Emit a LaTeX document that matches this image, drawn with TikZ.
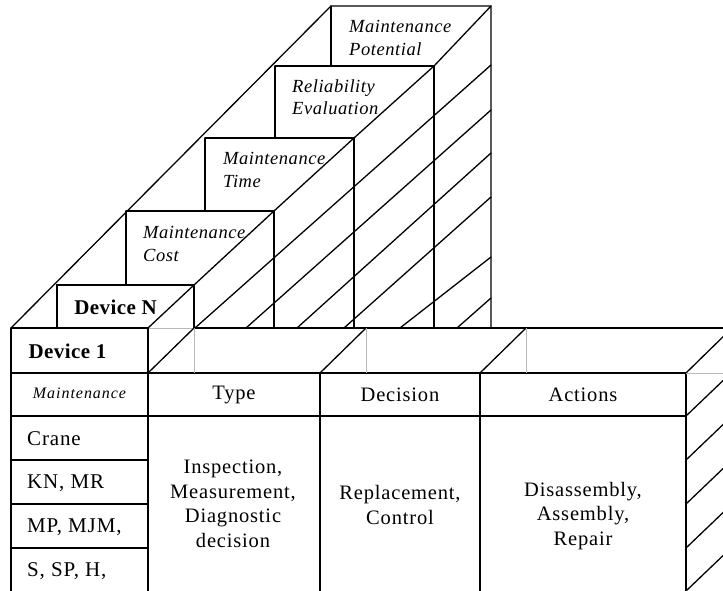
\documentclass[tikz,border=0pt]{standalone}
\usepackage{fontspec}
\setmainfont{Liberation Serif}
\newfontfamily\widefont[LetterSpace=4]{Liberation Serif}
\newfontfamily\wideital[LetterSpace=3,UprightFont=*-Italic]{Liberation Serif}
\newfontfamily\smallital[LetterSpace=6,UprightFont=*-Italic]{Liberation Serif}
\newfontfamily\widebold[LetterSpace=2,UprightFont=*-Bold]{Liberation Serif}
\begin{document}
\begin{tikzpicture}[x=1pt,y=-1pt,
  ln/.style={line width=1.3pt, line cap=round, line join=miter},
  gl/.style={line width=1pt, draw=black!28},
  txt/.style={inner sep=0pt, font=\fontsize{20.5}{24.5}\widefont, align=center},
  bld/.style={inner sep=0pt, font=\fontsize{21}{25}\widebold},
  itl/.style={inner sep=0pt, font=\fontsize{18.5}{22.5}\wideital, align=left, anchor=west},
  lft/.style={inner sep=0pt, font=\fontsize{21}{25}\widefont, anchor=west},
]
\clip (0,0) rectangle (723,591);
\fill[white] (0,0) rectangle (723,591);

% ---------- upper staircase ----------
\draw[ln] (11,328) -- (331,6) -- (491,6) -- (491,328);
\draw[ln] (331,6) -- (331,66);
\draw[ln] (275,66) -- (434,66) -- (434,328);
\draw[ln] (275,66) -- (275,138);
\draw[ln] (205,138) -- (354,138) -- (354,328);
\draw[ln] (205,138) -- (205,211);
\draw[ln] (126,211) -- (274,211) -- (274,328);
\draw[ln] (126,211) -- (126,285);
\draw[ln] (57,328) -- (57,285) -- (194,285) -- (194,328);
% ridge
\draw[ln] (148,328) -- (194,285) -- (274,211) -- (354,138) -- (434,66) -- (491,6);
% hatch lines
\draw[ln] (195,328) -- (491,65);
\draw[ln] (246,328) -- (491,110);
\draw[ln] (297,328) -- (491,153);
\draw[ln] (344,328) -- (491,197);
\draw[ln] (400,328) -- (491,257);
\draw[ln] (457,328) -- (491,298);

% ---------- base line y=328 ----------
\draw[ln] (11,328) -- (148,328);
\draw[gl] (148,328) -- (194,328);
\draw[ln] (194,328) -- (730,328);

% ---------- table block ----------
\draw[ln] (11,328) -- (11,600);
\draw[ln] (148,328) -- (148,600);
\draw[ln] (11,373) -- (686,373);
\draw[ln] (11,416) -- (686,416);
\foreach \y in {460,504,548} \draw[ln] (11,\y) -- (148,\y);
\foreach \x in {320,480,686} \draw[ln] (\x,373) -- (\x,600);
% top face
\draw[ln] (148,373) -- (194,328);
\draw[ln] (320,373) -- (366,328);
\draw[ln] (480,373) -- (526,328);
\draw[ln] (686,373) -- (732,328);
\draw[gl] (194,328) -- (194,373);
\draw[gl] (366,328) -- (366,373);
\draw[gl] (526,328) -- (526,373);
\draw[gl] (686,373) -- (730,373);
% right face
\foreach \y in {416,460,504,548,591} \draw[ln] (686,\y) -- (732,\y-44);

% ---------- texts ----------
\node[itl] (mp) at (349,38) {Maintenance\\Potential};
\node[itl] (re) at (292,97) {Reliability\\Evaluation};
\node[itl] (mt) at (223,170) {Maintenance\\Time};
\node[itl] (mc) at (143,244) {Maintenance\\Cost};
\node[bld] (dn) at (115.5,307) {Device N};
\node[bld] (d1) at (67.5,351) {Device 1};
\node[inner sep=0pt, font=\fontsize{16}{19}\smallital] (mn) at (79.5,393) {Maintenance};
\node[lft] (cr) at (27,439) {Crane};
\node[lft] (kn) at (27,483) {KN, MR};
\node[lft] (mpj) at (27,527) {MP, MJM,};
\node[lft] (ssp) at (27,571) {S, SP, H,};
\node[txt] (ty) at (234,395) {Type};
\node[txt] (de) at (400,395) {Decision};
\node[txt] (ac) at (583,395) {Actions};
\node[txt] (tyb) at (233,504) {Inspection,\\Measurement,\\Diagnostic\\decision};
\node[txt] (deb) at (400,505) {Replacement,\\Control};
\node[txt] (acb) at (583,516) {Disassembly,\\Assembly,\\Repair};
\end{tikzpicture}
\end{document}
